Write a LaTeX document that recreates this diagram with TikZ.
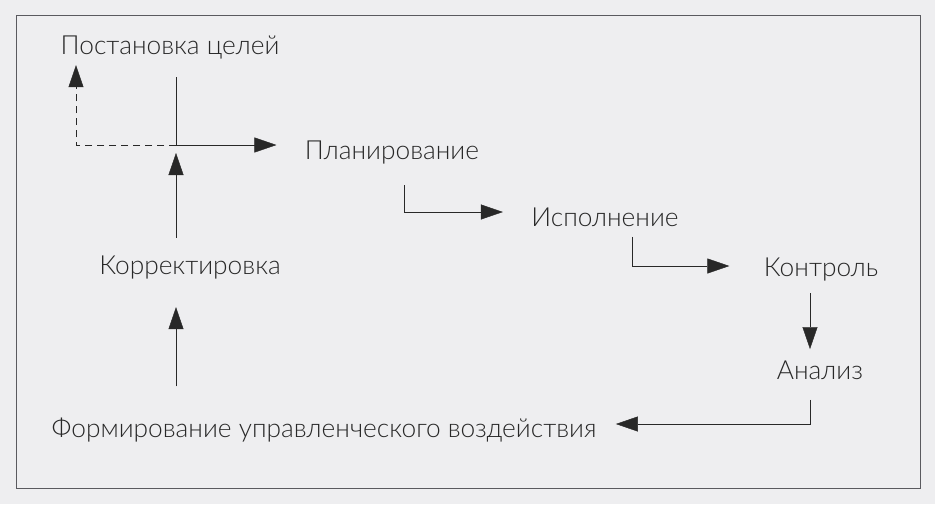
\documentclass[tikz,border=0pt]{standalone}
\usepackage{fontspec}
\setmainfont{Lato Light}
\usetikzlibrary{arrows.meta}
\definecolor{bggray}{RGB}{238,238,240}
\definecolor{framegray}{RGB}{90,90,95}
\definecolor{inkgray}{RGB}{40,40,40}
\tikzset{>={Triangle[length=22pt,width=15pt]}, line width=1.3pt}
\tikzset{stage/.style={text=inkgray,font=\fontsize{26.3pt}{31pt}\selectfont}}
\tikzset{flow/.style={->,draw=inkgray}}

\begin{document}
\begin{tikzpicture}[x=1pt,y=-1pt]
  \def\xaxis{176}

  % page and frame
  \useasboundingbox[fill=bggray] (0,0) rectangle (935,504);
  \draw[framegray,line width=1pt] (16,15) rectangle (920,488);

  % stages
  \node[stage] (goal) at (170,48) {Постановка целей};
  \node[stage] (plan) at (392,153) {Планирование};
  \node[stage] (exec) at (605,217) {Исполнение};
  \node[stage] (ctrl) at (821,270) {Контроль};
  \node[stage] (anal) at (820,370) {Анализ};
  \node[stage] (form) at (324,430) {Формирование управленческого воздействия};
  \node[stage] (corr) at (190,268) {Корректировка};

  % crossing under the goal
  \coordinate (cross) at (\xaxis,145);
  \coordinate (crosstop) at (\xaxis,77);

  \draw[draw=inkgray] (cross) -- (crosstop);
  \draw[flow,dash pattern=on 7pt off 5pt] (cross) -| ([xshift=-94pt,yshift=-2pt]goal.south);
  \draw[flow,shorten <=15pt,shorten >=8pt] (corr.north -| cross) -- (cross);
  \draw[flow,shorten >=25pt] (cross) -- (plan.west |- cross);

  % chain
  \draw[flow] ([xshift=12pt,yshift=-17pt]plan.south) |- ([xshift=-25pt,yshift=5pt]exec.west);
  \draw[flow] ([xshift=27pt,yshift=-7pt]exec.south) |- ([xshift=-31pt,yshift=4pt]ctrl.west);
  \draw[flow,shorten <=8pt,shorten >=8pt] ([xshift=-10pt]anal.north |- ctrl.south) -- ([xshift=-10pt]anal.north);
  \draw[flow] ([xshift=-10pt,yshift=-17pt]anal.south) |- ([xshift=16pt,yshift=6pt]form.east);
  \draw[flow,shorten <=28pt,shorten >=24pt] (form.north -| cross) -- (corr.south -| cross);
\end{tikzpicture}
\end{document}
